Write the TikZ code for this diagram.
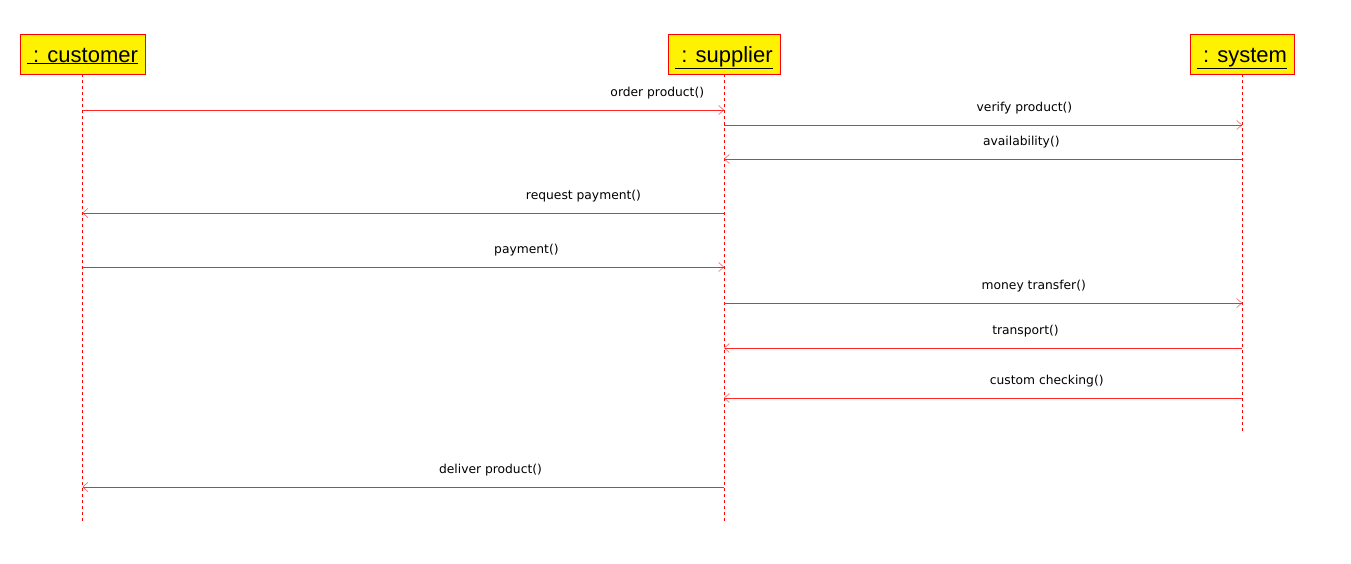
\documentclass[tikz,border=0pt]{standalone}
\usepackage{fontspec}
\setmainfont{Liberation Sans}
\newfontfamily\msgfont{DejaVu Sans}
\usetikzlibrary{arrows.meta}

\begin{document}
\begin{tikzpicture}[
    x=1pt, y=-1pt,
    obj/.style={
        rectangle,
        draw=red,
        fill=yellow,
        minimum height=40pt,
        inner xsep=7pt,
        text height=20pt,
        text depth=4pt,
        font=\fontsize{22}{24}\selectfont
    },
    life/.style={draw=red, dashed, thin},
    msg/.style={-{Straight Barb[length=5pt,width=9pt]}, draw=red!85, thin},
    lbl/.style={above=7pt, font=\msgfont\fontsize{12.3}{14}\selectfont, text=black}
]
\useasboundingbox (0,0) rectangle (1351,563);

% Objects
\node[obj] (cust) at (82.5,54) {\underline{\ : customer}};
\node[obj] (supp) at (724,54)  {\underline{\ : supplier}};
\node[obj] (syst) at (1242,54) {\underline{\ : system}};

% Lifelines
\coordinate (custend) at (cust.south |- 0,522);
\coordinate (suppend) at (supp.south |- 0,522);
\coordinate (systend) at (syst.south |- 0,432);
\draw[life] (cust.south) -- (custend);
\draw[life] (supp.south) -- (suppend);
\draw[life] (syst.south) -- (systend);

% Message rows
\coordinate (m1) at (0,110);
\coordinate (m2) at (0,125);
\coordinate (m3) at (0,159);
\coordinate (m4) at (0,213);
\coordinate (m5) at (0,267);
\coordinate (m6) at (0,303);
\coordinate (m7) at (0,348);
\coordinate (m8) at (0,398);
\coordinate (m9) at (0,487);

% Messages
\draw[msg] (cust |- m1) -- node[lbl, pos=0.896] {order product()} (supp |- m1);
\draw[msg] (supp |- m2) -- node[lbl, pos=0.580] {verify product()} (syst |- m2);
\draw[msg] (syst |- m3) -- node[lbl, pos=0.426] {availability()} (supp |- m3);
\draw[msg] (supp |- m4) -- node[lbl, pos=0.219] {request payment()} (cust |- m4);
\draw[msg] (cust |- m5) -- node[lbl, pos=0.692] {payment()} (supp |- m5);
\draw[msg] (supp |- m6) -- node[lbl, pos=0.598] {money transfer()} (syst |- m6);
\draw[msg] (syst |- m7) -- node[lbl, pos=0.418] {transport()} (supp |- m7);
\draw[msg] (syst |- m8) -- node[lbl, pos=0.377] {custom checking()} (supp |- m8);
\draw[msg] (supp |- m9) -- node[lbl, pos=0.364] {deliver product()} (cust |- m9);

\end{tikzpicture}
\end{document}
